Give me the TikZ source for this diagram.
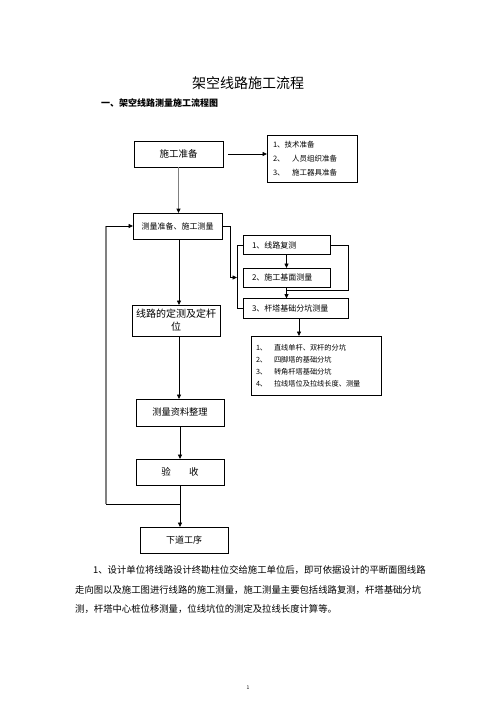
\documentclass[tikz,border=0pt]{standalone}
\usepackage{fontspec}
\setmainfont{Noto Sans CJK SC}
\usetikzlibrary{arrows.meta}
\newcommand{\myfs}[1]{\fontsize{#1}{#1}\selectfont}
\newcommand{\myfsl}[2]{\fontsize{#1}{#2}\selectfont}
\begin{document}
\begin{tikzpicture}[x=1pt,y=-1pt,
  box/.style={draw,line width=0.8pt,inner sep=0pt,outer sep=0pt},
  conn/.style={line width=0.8pt},
  arr/.style={conn,-{Triangle[length=4.5pt,width=4pt]}},
  gconn/.style={line width=1.6pt,draw=black!50},
  garr/.style={gconn,-{Triangle[length=4.5pt,width=4pt,color=black]}},
  txt/.style={inner sep=0pt,anchor=west},
]
\useasboundingbox (0,0) rectangle (496,702);

% titles
\node[font=\myfs{14}] (title) at (248,83) {架空线路施工流程};
\node[txt,font=\bfseries\myfs{9}] (head) at (101,103) {一、架空线路测量施工流程图};

% main column
\node[box,minimum width=89pt,minimum height=26pt,font=\myfs{9.5}] (prep) at (178.5,154) {施工准备};
\node[box,minimum width=89pt,minimum height=26pt,font=\myfs{8}] (M) at (177.5,226) {测量准备、施工测量};
\node[box,minimum width=88pt,minimum height=31pt,font=\myfsl{10}{13},align=center] (L) at (176,320.5) {线路的定测及定杆\\位};
\node[box,minimum width=88pt,minimum height=27pt,font=\myfs{9.2}] (D) at (180,412.5) {测量资料整理};
\node[box,minimum width=88pt,minimum height=26pt,font=\myfs{9.5}] (Y) at (180,472) {验\hspace{18.5pt}收};
\node[box,minimum width=88pt,minimum height=26pt,font=\myfs{9}] (X) at (184,540) {下道工序};

% right column
\node[box,minimum width=90pt,minimum height=47pt,text width=78pt,align=left,font=\myfsl{7.5}{14}] (R1) at (312,158.5)
  {1、技术准备\\\makebox[19pt][l]{2、}人员组织准备\\\makebox[19pt][l]{3、}施工器具准备};
\node[box,minimum width=87pt,minimum height=19pt,text width=69pt,align=left,font=\myfs{8}] (B1) at (286.5,245) {1、线路复测};
\node[box,minimum width=87pt,minimum height=19pt,text width=69pt,align=left,font=\myfs{8}] (B2) at (286.5,277.5) {2、施工基面测量};
\node[box,minimum width=105pt,minimum height=20pt,text width=87pt,align=left,font=\myfs{8}] (B3) at (295.5,308.5) {3、杆塔基础分坑测量};
\node[box,minimum width=130pt,minimum height=59pt,text width=120pt,align=left,font=\myfsl{7.2}{12}] (I) at (316,365.5)
  {\makebox[18pt][l]{1、}直线单杆、双杆的分坑\\\makebox[18pt][l]{2、}四脚塔的基础分坑\\\makebox[18pt][l]{3、}转角杆塔基础分坑\\\makebox[18pt][l]{4、}拉线塔位及拉线长度、测量};

% helper coordinates
\coordinate (cx) at (179,0);
\coordinate (lx) at (237,0);
\coordinate (rx) at (230,0);
\coordinate (ax) at (299,0);
\coordinate (jy) at (0,290);
\coordinate (j) at (180,504);
\coordinate (ret1) at (106,504);
\coordinate (ret2) at (106,226);

% connectors
\draw[garr] (prep.south) -- (prep.south |- M.north);
\draw[arr,shorten <=5pt] (prep.east) -- (prep.east -| R1.west);
\draw[arr] (M.east) -- (M.east -| rx) -- (rx |- B2.west) -- (B2.west -| lx);
\draw[conn] (B1.west) -- (B1.west -| lx) -- (lx |- B3.west) -- (B3.west);
\draw[arr] (B1.south) -- (B2.north);
\draw[arr] (B2.south) -- (B2.south |- B3.north);
\draw[conn] (B1.east) -- (B1.east -| B3.east) -- (B3.east |- jy) -- (B2.south |- jy);
\draw[arr] (B3.south -| ax) -- (I.north -| ax);
\draw[arr] (M.south -| cx) -- (L.north -| cx);
\draw[arr] (L.south -| cx) -- (D.north -| cx);
\draw[arr] (D.south) -- (Y.north);
\draw[arr] (Y.south) -- (Y.south |- X.north);
\draw[conn] (j) -- (ret1);
\draw[gconn] (ret1) -- (ret2);
\draw[arr] (ret2) -- (M.west);

% body text
\node[txt,font=\myfs{9.35}] (p1) at (93,570) {1、设计单位将线路设计终勘柱位交给施工单位后，即可依据设计的平断面图线路};
\node[txt,font=\myfs{9.35}] (p2) at (75,590) {走向图以及施工图进行线路的施工测量，施工测量主要包括线路复测，杆塔基础分坑};
\node[txt,font=\myfs{9.35}] (p3) at (75,609) {测，杆塔中心桩位移测量，位线坑位的测定及拉线长度计算等。};
\node[font=\myfs{5}] (pg) at (248,688) {1};
\end{tikzpicture}
\end{document}
